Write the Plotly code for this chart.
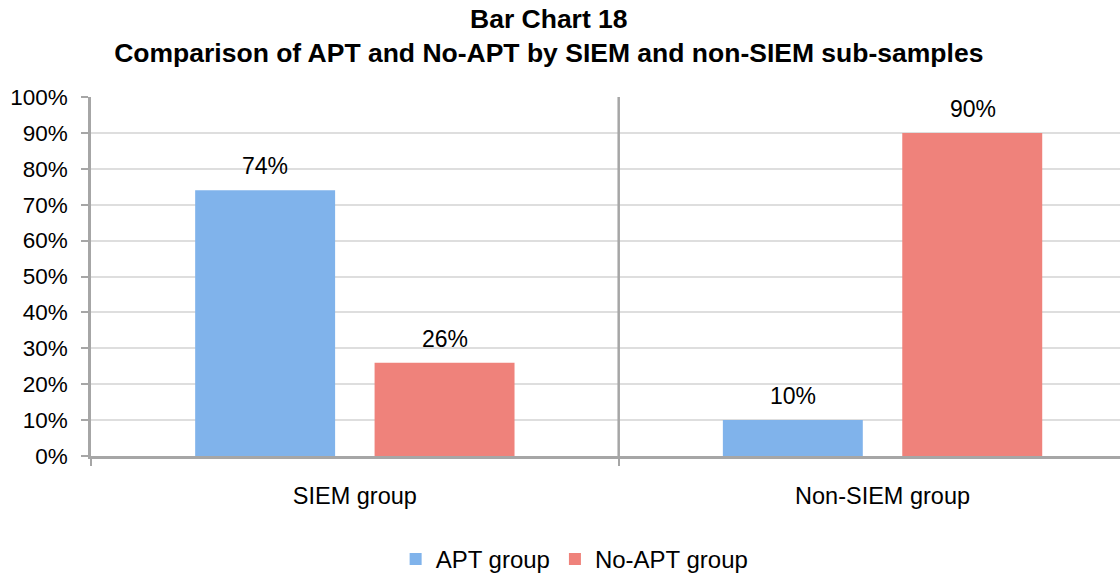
import plotly.graph_objects as go

categories = ["SIEM group", "Non-SIEM group"]
series_names = ["APT group", "No-APT group"]
apt_values = [74, 10]
noapt_values = [26, 90]
y_ticks = [0, 10, 20, 30, 40, 50, 60, 70, 80, 90, 100]
y_tick_labels = [f"{v}%" for v in y_ticks]

FONT = "Liberation Sans, Arial, Helvetica, sans-serif"
BLUE = "#80b3eb"
RED = "#ef827b"

fig = go.Figure()
fig.add_trace(go.Bar(
    name=series_names[0], x=categories, y=apt_values,
    marker=dict(color=BLUE, line=dict(width=0)),
))
fig.add_trace(go.Bar(
    name=series_names[1], x=categories, y=noapt_values,
    marker=dict(color=RED, line=dict(width=0)),
))

# value labels above each bar (x offset in pixels = half distance between bar centres)
BAR_OFFSET_PX = 90
for vals, shift in ((apt_values, -BAR_OFFSET_PX), (noapt_values, BAR_OFFSET_PX)):
    for cat, v in zip(categories, vals):
        fig.add_annotation(
            x=cat, y=v, xref="x", yref="y", text=f"{v}%", showarrow=False,
            xshift=shift, yshift=24, yanchor="middle",
            font=dict(size=23, family=FONT, color="#000000"),
        )

fig.add_shape(type="line", xref="x", yref="paper", x0=0.5, x1=0.5, y0=0, y1=1,
              line=dict(color="#a6a6a6", width=2.5))

fig.update_layout(
    width=1120, height=573,
    paper_bgcolor="white", plot_bgcolor="white",
    margin=dict(l=91, r=0, t=97, b=117, autoexpand=False),
    title=dict(
        text="<b>Bar Chart 18<br>Comparison of APT and No-APT by SIEM and non-SIEM sub-samples</b>",
        x=0.49, xanchor="center", xref="container", y=0.952, yanchor="top", yref="container",
        font=dict(size=26.5, family=FONT, color="#000000"),
    ),
    barmode="group", bargap=0.32, bargroupgap=0.22,
    showlegend=True,
    legend=dict(
        orientation="h", x=0.47, xanchor="center", y=-0.225, yanchor="top",
        font=dict(size=24, family=FONT, color="#000000"),
        itemwidth=30, tracegroupgap=0,
    ),
    font=dict(family=FONT, color="#000000"),
)
fig.update_xaxes(
    range=[-0.5, 1.45], showline=True, linecolor="#a6a6a6", linewidth=2.5,
    ticks="outside", tickson="boundaries", ticklen=7, tickcolor="#a6a6a6", tickwidth=2,
    tickfont=dict(size=23.5, family=FONT, color="#000000"), ticklabelstandoff=17,
    showgrid=False, fixedrange=True, automargin=False,
)
fig.update_yaxes(
    range=[0, 100], tickvals=y_ticks, ticktext=y_tick_labels,
    showline=True, linecolor="#a6a6a6", linewidth=2.5,
    ticks="outside", ticklen=7, tickcolor="#a6a6a6", tickwidth=2,
    showgrid=True, gridcolor="#dedede", gridwidth=2,
    tickfont=dict(size=22.5, family=FONT, color="#000000"), ticklabelstandoff=9,
    zeroline=False, automargin=False, fixedrange=True,
)

fig.write_html(
    "out.html",
    config={"displayModeBar": False},
    post_script="document.body.style.margin='0';document.body.style.padding='0';",
)
